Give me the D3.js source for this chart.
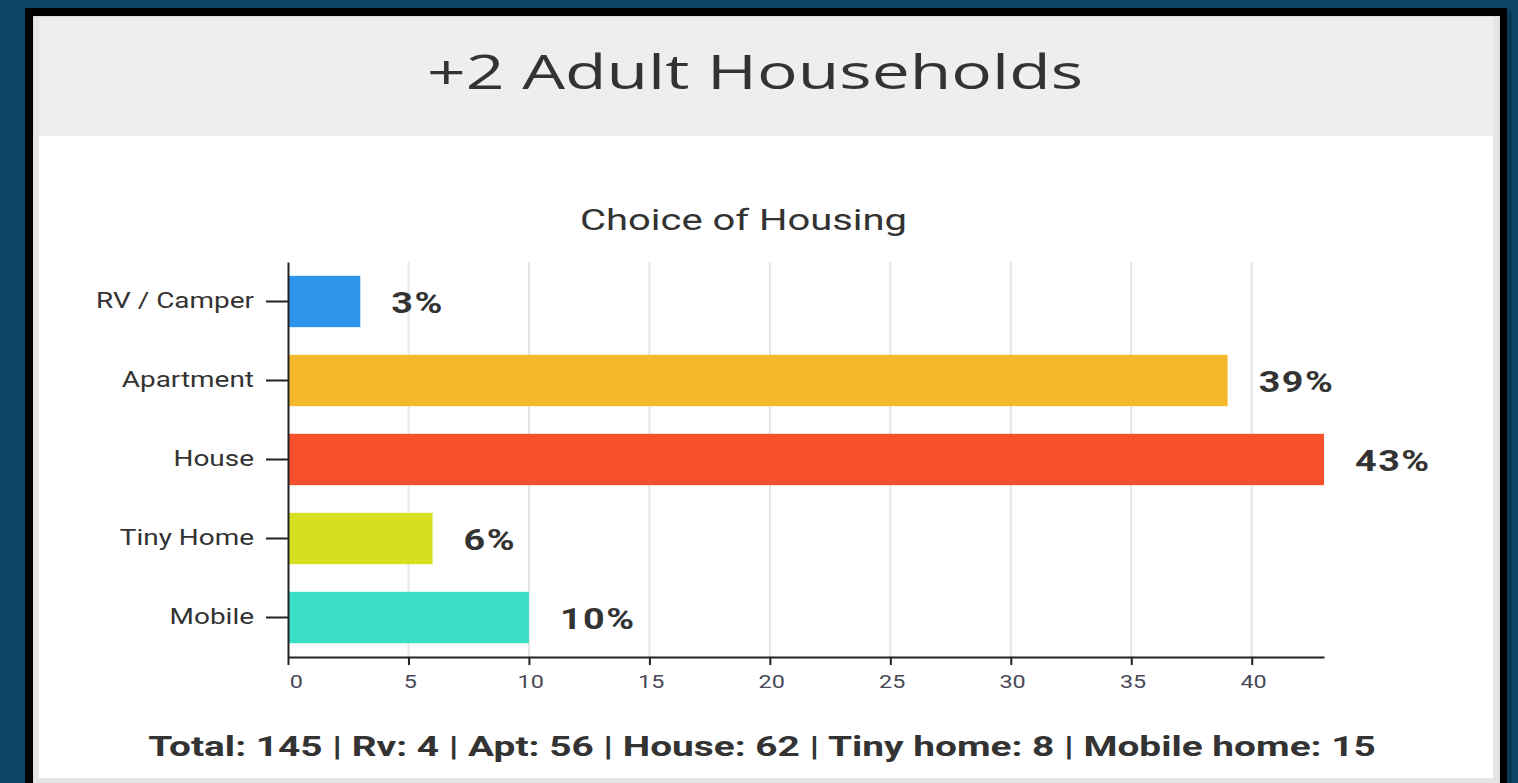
<!DOCTYPE html>
<html>
<head>
<meta charset="utf-8">
<script src="https://cdn.jsdelivr.net/npm/d3@7"></script>
<style>
html, body { margin: 0; padding: 0; background: #0b4566; overflow: hidden; }
</style>
</head>
<body>
<svg id="pic" width="1518" height="783"></svg>
<script>
// data
const categories = ['RV / Camper', 'Apartment', 'House', 'Tiny Home', 'Mobile']
const percents = [3, 39, 43, 6, 10]
const barColors = ['#2d95eb', '#f6b82b', '#f6502c', '#d6e021', '#3adec4']
const xTicks = [0, 5, 10, 15, 20, 25, 30, 35, 40]
const summaryNames = ['Total', 'Rv', 'Apt', 'House', 'Tiny home', 'Mobile home']
const summaryCounts = [145, 4, 56, 62, 8, 15]

const stretch = 1.3   // the screenshot is wider than it is tall
const svg = d3.select('#pic')

// page frame
svg.append('rect').attr('width', 1518).attr('height', 783).style('fill', '#0b4566')
svg.append('rect').attr('x', 1507).attr('y', 12).attr('width', 5).attr('height', 783).style('fill', '#083a56')
svg.append('rect').attr('x', 25).attr('y', 8).attr('width', 1482).attr('height', 800).style('fill', '#000')
svg.append('rect').attr('x', 33).attr('y', 16).attr('width', 1467).attr('height', 800).style('fill', '#dcdcdc')
svg.append('rect').attr('x', 34).attr('y', 17).attr('width', 1465).attr('height', 800).style('fill', '#e6e6e6')
svg.append('rect').attr('x', 39).attr('y', 17).attr('width', 1454).attr('height', 119).style('fill', '#eeeeee')
svg.append('rect').attr('x', 39).attr('y', 136).attr('width', 1454).attr('height', 642).style('fill', '#ffffff')

// squeeze/stretch a centred text to a given width
function fitText(t, cx, y, w) {
    let n = t.node().getComputedTextLength()
    t.attr('transform', `translate(${cx},${y}) scale(${w / n},1)`)
}

let title = svg.append('text')
    .attr('text-anchor', 'middle')
    .style('font-family', 'Open Sans')
    .style('font-size', '47px')
    .style('fill', '#333')
    .text('+2 Adult Households')
fitText(title, 755, 89, 656)

let chartTitle = svg.append('text')
    .attr('text-anchor', 'middle')
    .style('font-family', 'Roboto')
    .style('font-size', '29px')
    .style('fill', '#333')
    .text('Choice of Housing')
fitText(chartTitle, 743.5, 230, 327)

// scales
const x = d3.scaleLinear().domain([0, 43]).range([288, 1324])
const y = d3.scaleBand().domain(categories).range([262, 657])
    .paddingInner(0.35).paddingOuter(0.175)

// grid
svg.append('g').selectAll('line')
    .data(xTicks.filter(d => d > 0))
    .join('line')
    .attr('x1', d => x(d)).attr('x2', d => x(d))
    .attr('y1', 262).attr('y2', 657)
    .style('stroke', '#e6e6e6')
    .style('stroke-width', 2)

// bars
svg.append('g').selectAll('rect')
    .data(categories)
    .join('rect')
    .attr('x', x(0))
    .attr('y', d => y(d))
    .attr('width', (d, i) => x(percents[i]) - x(0))
    .attr('height', y.bandwidth())
    .style('fill', (d, i) => barColors[i])

// value labels
svg.append('g').selectAll('text')
    .data(categories)
    .join('text')
    .attr('transform', (d, i) => `translate(${x(percents[i]) + 31},${y(d) + y.bandwidth() / 2}) scale(${stretch},1)`)
    .attr('dy', '0.38em')
    .style('font-family', 'Roboto')
    .style('font-weight', 'bold')
    .style('font-size', '29px')
    .style('letter-spacing', '1.2px')
    .style('fill', '#333')
    .text((d, i) => percents[i] + '%')

// axes
let xAxis = svg.append('g')
    .attr('transform', 'translate(0,657)')
    .call(d3.axisBottom(x).tickValues(xTicks).tickSize(8).tickSizeOuter(0).tickPadding(10))
xAxis.selectAll('text')
    .attr('x', d => d == 0 ? 6 : 1)
    .attr('transform', `scale(${stretch},1)`)
    .style('font-family', 'Roboto')
    .style('font-size', '18px')
    .style('fill', '#484858')

let yAxis = svg.append('g')
    .attr('transform', 'translate(288,0)')
    .call(d3.axisLeft(y).tickSize(22).tickSizeOuter(0).tickPadding(11))
yAxis.selectAll('text')
    .attr('x', -34 / stretch)
    .attr('transform', `scale(${stretch},1)`)
    .style('font-family', 'Roboto')
    .style('font-size', '21.5px')
    .style('fill', '#333')

svg.selectAll('.domain, .tick line')
    .style('stroke', '#222')
    .style('stroke-width', 2)

// summary line under the chart
let summary = svg.append('text')
    .attr('text-anchor', 'middle')
    .style('font-family', 'Roboto')
    .style('font-weight', 'bold')
    .style('font-size', '28px')
    .style('fill', '#333')
    .text(summaryNames.map((n, i) => n + ': ' + summaryCounts[i]).join(' | '))
fitText(summary, 762, 756, 1228)
</script>
</body>
</html>
